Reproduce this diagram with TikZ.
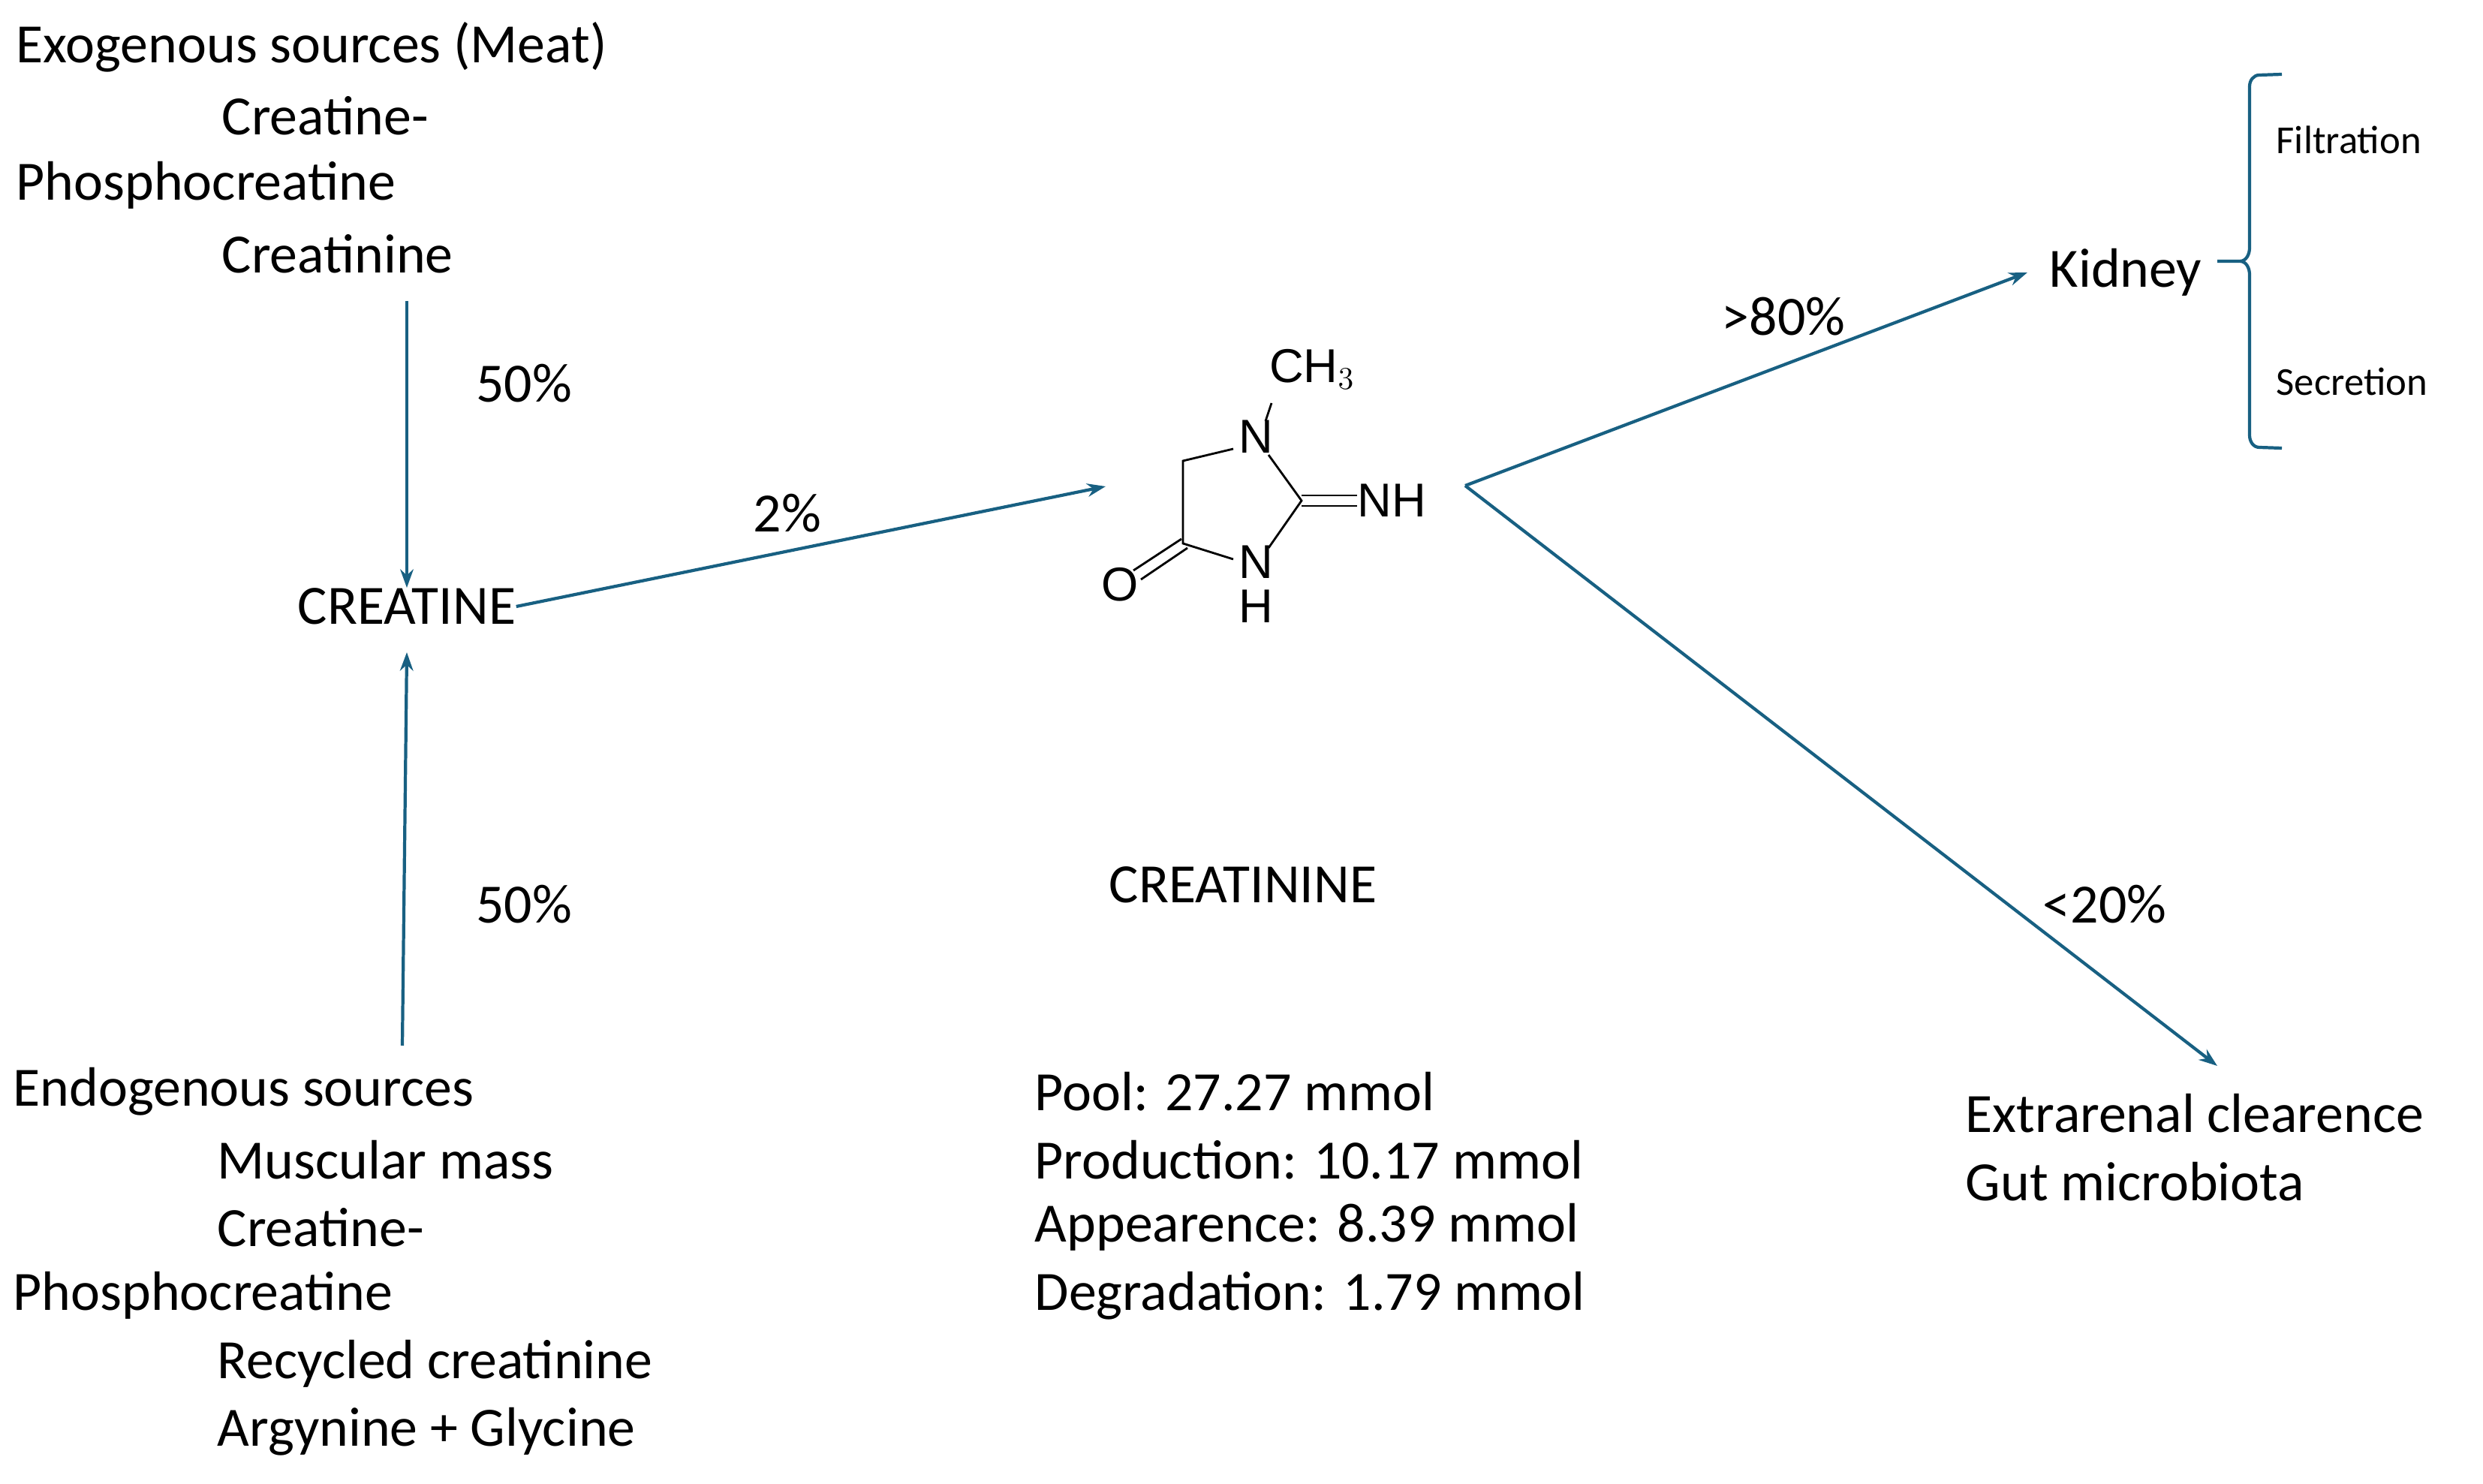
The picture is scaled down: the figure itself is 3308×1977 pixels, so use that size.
\documentclass[tikz,border=0pt]{standalone}
\usepackage{fontspec}
\setmainfont{Carlito}
\newfontfamily\chemfont{Liberation Sans}
\usetikzlibrary{arrows.meta}
\definecolor{arr}{RGB}{24,96,130}
\tikzset{
  txt/.style={anchor=west,inner sep=0pt,font=\fontsize{21}{25}\selectfont},
  small/.style={anchor=west,inner sep=0pt,font=\fontsize{15}{18}\selectfont},
  pct/.style={inner sep=0pt,font=\fontsize{21}{25}\selectfont},
  chem/.style={inner sep=0pt,font=\chemfont\fontsize{18}{20}\selectfont},
  flow/.style={draw=arr,line width=1.2pt,-{Stealth[length=7pt,width=5pt]}},
  bond/.style={line width=0.8pt},
}
\begin{document}
\begin{tikzpicture}[x=0.01cm,y=-0.01cm]
\useasboundingbox (0,0) rectangle (3308,1977);
% exogenous
\node[txt] (ex1) at (21,63) {Exogenous sources (Meat)};
\node[txt] (ex2) at (295,154) {Creatine-};
\node[txt] (ex3) at (21,247) {Phosphocreatine};
\node[txt] (ex4) at (295,338) {Creatinine};
\coordinate (exa) at (542,401);
\node[txt,anchor=center] (crea) at (542,808) {CREATINE};
\draw[flow] (exa) -- (crea.north);
\node[pct] (p1) at (698,511) {50\%};
% endogenous
\node[txt] (en1) at (17,1454) {Endogenous sources};
\node[txt] (en2) at (289,1545) {Muscular mass};
\node[txt] (en3) at (289,1635) {Creatine-};
\node[txt] (en4) at (17,1726) {Phosphocreatine};
\node[txt] (en5) at (289,1817) {Recycled creatinine};
\node[txt] (en6) at (289,1907) {Argynine + Glycine};
\coordinate (ena) at (536,1393);
\draw[flow] (ena) -- (542,869);
\node[pct] (p2) at (698,1205) {50\%};
% to creatinine
\coordinate (mtip) at (1473,648);
\draw[flow] (crea.east) -- (mtip);
\node[pct] (p3) at (1049,684) {2\%};
% molecule
\node[chem] (n1) at (1673,582) {N};
\node[chem] (ch3) at (1748,492) {CH$_3$};
\node[chem] (n3) at (1673,749) {N};
\node[chem] (h3) at (1673,808) {H};
\node[chem] (o) at (1492,779) {O};
\node[chem,anchor=west] (nh) at (1808,667) {NH};
\coordinate (c5) at (1576,614);
\coordinate (c4) at (1576,724);
\coordinate (c2) at (1734,667);
\draw[bond] (1694,537) -- (1686,561);
\draw[bond] (1643,598) -- (c5) -- (c4) -- (1643,745);
\draw[bond] (1690,606) -- (c2) -- (1690,730);
\draw[bond] (1734,660) -- (1808,660);
\draw[bond] (1734,674) -- (1808,674);
\draw[bond] (1574,718) -- (1510,760);
\draw[bond] (1582,730) -- (1520,772);
\node[txt,anchor=center] (crn) at (1656,1179) {CREATININE};
\node[txt] (s1) at (1378,1454) {Pool: 27.27 mmol};
\node[txt] (s2) at (1378,1545) {Production: 10.17 mmol};
\node[txt] (s3) at (1378,1635) {Appearence: 8.39 mmol};
\node[txt] (s4) at (1378,1726) {Degradation: 1.79 mmol};
% outputs
\coordinate (v) at (1952,647);
\node[txt] (kid) at (2730,363) {Kidney};
\draw[flow] (v) -- (2701,363);
\node[pct] (p4) at (2376,422) {>80\%};
\coordinate (ext) at (2954,1420);
\draw[flow] (v) -- (ext);
\node[pct] (p5) at (2804,1205) {<20\%};
\node[txt] (e1) at (2618,1483) {Extrarenal clearence};
\node[txt] (e2) at (2618,1574) {Gut microbiota};
% brace
\draw[arr,line width=1.2pt] (3040,99) -- (3010,100) to[out=180,in=90] (2997,115) -- (2997,330) to[out=-90,in=0] (2984,348) -- (2954,348)
  (2984,348) to[out=0,in=90] (2997,366) -- (2997,580) to[out=-90,in=180] (3010,596) -- (3040,597);
\node[small] (f) at (3032,186) {Filtration};
\node[small] (sec) at (3032,508) {Secretion};
\end{tikzpicture}
\end{document}
